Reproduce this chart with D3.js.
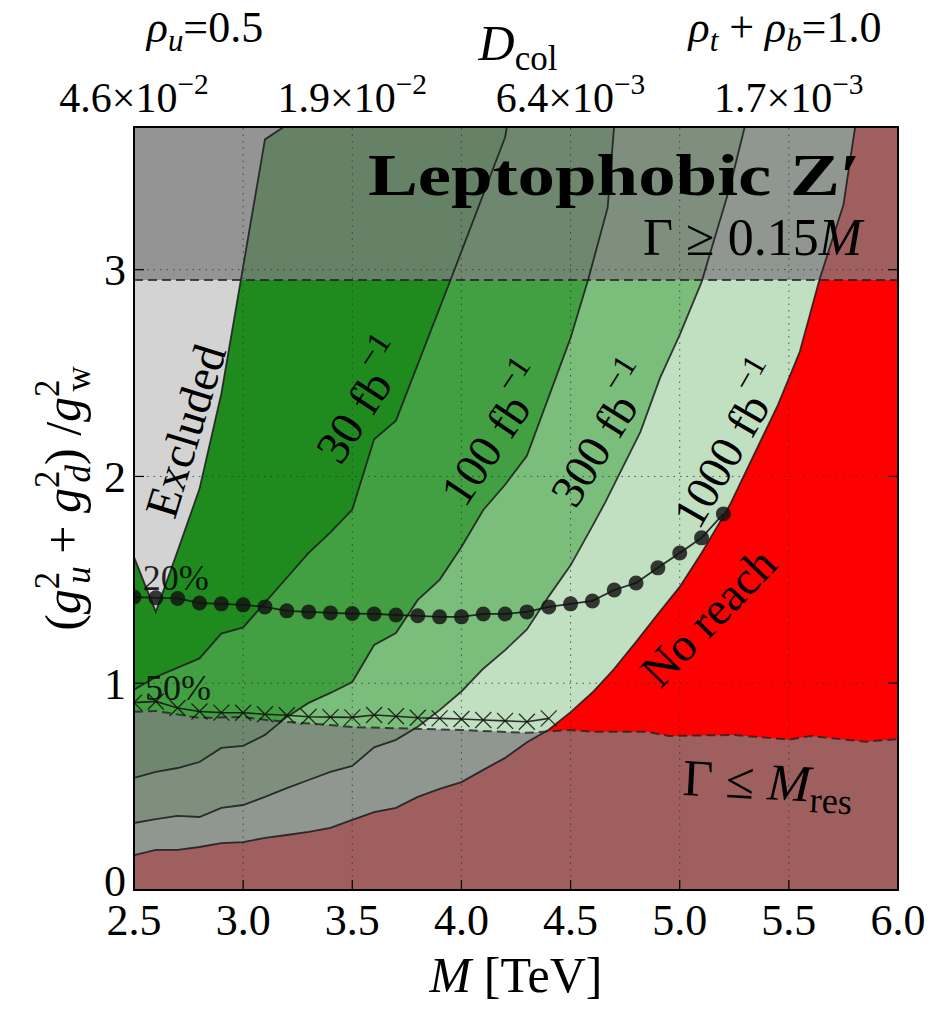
<!DOCTYPE html>
<html><head><meta charset="utf-8">
<script src="https://cdn.jsdelivr.net/npm/d3@7"></script>
<style>body{margin:0;background:#fff} text{font-family:'Liberation Serif','DejaVu Serif',serif;fill:#000}</style>
</head><body><svg id="c" width="944" height="1011"></svg>
<script>
// ---------- data ----------
const xTicks=[2.5,3.0,3.5,4.0,4.5,5.0,5.5,6.0];
const yTicks=[0,1,2,3];
const topTickM=[2.5,3.5,4.5,5.5];
const topTickMant=["4.6","1.9","6.4","1.7"];
const topTickExp=["−2","−2","−3","−3"];

const excludedM=[2.5,2.6,2.7,2.8,2.9,3.1,3.2];
const excludedG=[1.61,1.345,1.64,1.94,2.40,3.63,3.70];

const lumi30M=[2.5,2.6,2.8,2.9,3.0,3.1,3.2,3.3,3.4,3.5,3.6,3.7,3.95,4.2,4.21];
const lumi30G=[0.968,1.03,1.12,1.24,1.27,1.39,1.51,1.63,1.73,1.84,2.18,2.27,2.95,3.64,3.70];

const lumi100M=[2.5,2.6,2.7,2.8,2.9,3.0,3.1,3.2,3.3,3.4,3.5,3.6,3.7,3.8,3.9,4.0,4.1,4.2,4.3,4.5,4.58,4.67,4.70];
const lumi100G=[0.542,0.571,0.590,0.619,0.687,0.697,0.750,0.837,0.905,0.953,1.006,1.185,1.243,1.403,1.50,1.659,1.838,1.96,2.10,2.67,2.95,3.30,3.70];

const lumi300M=[2.5,2.6,2.7,2.8,2.9,3.0,3.1,3.2,3.3,3.4,3.5,3.6,3.7,3.8,3.9,4.0,4.1,4.2,4.3,4.4,4.5,4.6,4.66,4.82,4.91,5.0,5.1,5.23,5.3];
const lumi300G=[0.324,0.343,0.358,0.353,0.397,0.411,0.450,0.493,0.532,0.571,0.600,0.690,0.726,0.79,0.87,0.96,1.07,1.16,1.26,1.42,1.57,1.76,1.877,2.216,2.477,2.685,2.94,3.40,3.70];

const lumi1000M=[2.5,2.6,2.7,2.8,2.9,3.0,3.1,3.2,3.3,3.4,3.5,3.6,3.7,3.8,3.9,4.0,4.1,4.2,4.3,4.4,4.5,4.6,4.7,4.8,4.9,5.0,5.1,5.19,5.23,5.45,5.55,5.64,5.75,5.805];
const lumi1000G=[0.169,0.194,0.194,0.208,0.227,0.232,0.252,0.266,0.281,0.300,0.339,0.377,0.397,0.450,0.489,0.522,0.581,0.639,0.715,0.775,0.86,0.955,1.07,1.20,1.335,1.466,1.63,1.79,1.863,2.346,2.603,2.951,3.314,3.70];

const gammaResM=[2.5,2.6,2.8,3.0,3.1,3.2,3.4,3.5,4.0,4.3,4.5,4.6,4.85,4.95,5.25,5.5,5.6,5.85,6.0];
const gammaResG=[0.862,0.866,0.832,0.837,0.823,0.813,0.798,0.788,0.774,0.760,0.774,0.765,0.765,0.745,0.750,0.727,0.745,0.717,0.730];
const gammaWideG=2.95;

const pct20M=[2.5,2.6,2.7,2.8,2.9,3.0,3.1,3.2,3.3,3.4,3.5,3.6,3.7,3.8,3.9,4.0,4.1,4.2,4.3,4.4,4.5,4.6,4.7,4.8,4.9,5.0,5.1,5.2];
const pct20G=[1.417,1.413,1.410,1.388,1.384,1.379,1.369,1.350,1.345,1.340,1.337,1.335,1.330,1.326,1.321,1.321,1.335,1.335,1.345,1.369,1.384,1.398,1.451,1.485,1.558,1.630,1.703,1.819];

const pct50M=[2.5,2.6,2.7,2.8,2.9,3.0,3.1,3.2,3.3,3.4,3.5,3.6,3.7,3.8,3.9,4.0,4.1,4.2,4.3,4.4];
const pct50G=[0.906,0.912,0.880,0.863,0.858,0.857,0.850,0.845,0.838,0.836,0.835,0.846,0.840,0.833,0.830,0.827,0.822,0.818,0.814,0.830];

const colors={excluded:"#d3d3d3",l30:"#1f8b1f",l100:"#42a042",l300:"#7bbe7b",l1000:"#c1dfc1",noreach:"#ff0000"};

// ---------- setup ----------
const svg=d3.select("#c");
const L=134,R=898,T=127,B=890,YMAX=3.69;
const x=d3.scaleLinear().domain([2.5,6.0]).range([L,R]);
const y=d3.scaleLinear().domain([0,YMAX]).range([B,T]);
const zip=(a,b)=>a.map((v,i)=>[v,b[i]]);
const line=d3.line().x(d=>x(d[0])).y(d=>y(d[1]));

svg.append("clipPath").attr("id","clip").append("rect").attr("x",L).attr("y",T).attr("width",R-L).attr("height",B-T);
const g=svg.append("g").attr("clip-path","url(#clip)");

g.append("rect").attr("x",x(2.5)).attr("y",y(YMAX)).attr("width",x(6)-x(2.5)).attr("height",y(0)-y(YMAX)).attr("fill",colors.noreach);
const leftOf=(M,G)=>zip(M,G).concat([[2.45,3.75],[2.45,G[0]]]);
[[lumi1000M,lumi1000G,colors.l1000],[lumi300M,lumi300G,colors.l300],[lumi100M,lumi100G,colors.l100],[lumi30M,lumi30G,colors.l30],[excludedM,excludedG,colors.excluded]]
 .forEach(([M,G,c])=>g.append("path").attr("d",line(leftOf(M,G))+"Z").attr("fill",c));

g.append("rect").attr("x",x(2.5)).attr("y",y(YMAX)).attr("width",x(6)-x(2.5)).attr("height",y(gammaWideG)-y(YMAX)).attr("fill","rgb(127,127,127)").attr("fill-opacity",0.75);
g.append("path").attr("d",line(zip(gammaResM,gammaResG).concat([[6,0],[2.5,0]]))+"Z").attr("fill","rgb(127,127,127)").attr("fill-opacity",0.75);

[[excludedM,excludedG],[lumi30M,lumi30G],[lumi100M,lumi100G],[lumi300M,lumi300G],[lumi1000M,lumi1000G]].forEach(([M,G])=>
 g.append("path").attr("d",line(zip(M,G))).attr("fill","none").attr("stroke","#1a1a1a").attr("stroke-width",1.8).attr("stroke-opacity",0.85));

g.append("path").attr("d",line(zip(gammaResM,gammaResG))).attr("fill","none").attr("stroke","#222").attr("stroke-width",2).attr("stroke-dasharray","9,5").attr("stroke-opacity",0.8);
g.append("path").attr("d",line([[2.5,gammaWideG],[6,gammaWideG]])).attr("fill","none").attr("stroke","#222").attr("stroke-width",2).attr("stroke-dasharray","9,5").attr("stroke-opacity",0.8);

xTicks.slice(1,-1).forEach(v=>g.append("line").attr("x1",x(v)).attr("x2",x(v)).attr("y1",y(0)).attr("y2",y(YMAX)).attr("stroke","#333").attr("stroke-width",1).attr("stroke-dasharray","1.5,5").attr("stroke-opacity",0.8));
yTicks.slice(1).forEach(v=>g.append("line").attr("x1",x(2.5)).attr("x2",x(6)).attr("y1",y(v)).attr("y2",y(v)).attr("stroke","#333").attr("stroke-width",1).attr("stroke-dasharray","1.5,5").attr("stroke-opacity",0.8));

g.append("path").attr("d",line(zip(pct20M,pct20G))).attr("fill","none").attr("stroke","#111").attr("stroke-width",1.8).attr("stroke-opacity",0.85);
g.selectAll("circle.p20").data(zip(pct20M,pct20G)).enter().append("circle").attr("cx",d=>x(d[0])).attr("cy",d=>y(d[1])).attr("r",7.5).attr("fill","#111").attr("fill-opacity",0.82);
g.append("path").attr("d",line(zip(pct50M,pct50G))).attr("fill","none").attr("stroke","#111").attr("stroke-width",1.6).attr("stroke-opacity",0.85);
g.selectAll("path.p50").data(zip(pct50M,pct50G)).enter().append("path")
 .attr("d",d=>{const cx=x(d[0]),cy=y(d[1]),s=8;return `M${cx-s},${cy-s}L${cx+s},${cy+s}M${cx-s},${cy+s}L${cx+s},${cy-s}`;})
 .attr("stroke","#111").attr("stroke-width",1.3).attr("stroke-opacity",0.85);

// ---------- text helper ----------
function mtext(parent,parts,fs,attrs){
  const t=parent.append("text").attr("font-size",fs);
  Object.entries(attrs||{}).forEach(([k,v])=>t.attr(k,v));
  let shift=0;
  parts.forEach(p=>{
    if(typeof p==="string") p={t:p};
    const ts=t.append("tspan").text(p.t);
    const target=p.sup?-0.42*fs:(p.sub?0.2*fs:0);
    ts.attr("dy",target-shift); shift=target;
    if(p.sup||p.sub) ts.attr("font-size",fs*0.7);
    if(p.i) ts.attr("font-style","italic");
    if(p.b) ts.attr("font-weight","bold");
    if(p.dx) ts.attr("dx",p.dx);
  });
  return t;
}

const ann=svg.append("g");
function rotLabel(M,G,ang,parts,fs){
  return mtext(ann,parts,fs,{"text-anchor":"middle","dominant-baseline":"central",transform:`translate(${x(M)},${y(G)}) rotate(${ang})`});
}
rotLabel(2.735,2.22,-73,["Excluded"],47);
rotLabel(3.55,2.36,-57,["30 fb",{t:"−1",sup:true}],47);
rotLabel(4.155,2.20,-56,["100 fb",{t:"−1",sup:true}],47);
rotLabel(4.65,2.20,-58,["300 fb",{t:"−1",sup:true}],47);
rotLabel(5.23,2.15,-60,["1000 fb",{t:"−1",sup:true}],47);
rotLabel(5.13,1.32,-46,["No reach"],47);
mtext(ann,["20%"],36,{x:x(2.54),y:y(1.45),"fill-opacity":0.85});
mtext(ann,["50%"],36,{x:x(2.55),y:y(0.92),"fill-opacity":0.85});
mtext(ann,[{t:"Leptophobic Z′",b:true}],60,{x:x(5.83),y:y(3.36),"text-anchor":"end",textLength:493,lengthAdjust:"spacingAndGlyphs"});
mtext(ann,["Γ ≥ 0.15",{t:"M",i:true}],52,{x:x(5.835),y:y(3.07),"text-anchor":"end"});
mtext(ann,["Γ ≤ ",{t:"M",i:true},{t:"res",sub:true}],52,{transform:`translate(${x(5.01)},${y(0.46)}) rotate(3)`});

// ---------- frame & axes ----------
const ax=svg.append("g");
ax.append("rect").attr("x",L).attr("y",T).attr("width",R-L).attr("height",B-T).attr("fill","none").attr("stroke","#000").attr("stroke-width",2);
xTicks.forEach(v=>{
  ax.append("line").attr("x1",x(v)).attr("x2",x(v)).attr("y1",B).attr("y2",B-10).attr("stroke","#000").attr("stroke-width",1.2);
  ax.append("text").attr("x",x(v)).attr("y",B+45).attr("text-anchor","middle").attr("font-size",44).text(v.toFixed(1));
});
yTicks.forEach(v=>{
  ax.append("line").attr("x1",L).attr("x2",L+10).attr("y1",y(v)).attr("y2",y(v)).attr("stroke","#000").attr("stroke-width",1.2);
  ax.append("line").attr("x1",R).attr("x2",R-10).attr("y1",y(v)).attr("y2",y(v)).attr("stroke","#000").attr("stroke-width",1.2);
  ax.append("text").attr("x",L-8).attr("y",y(v)-(v===0?9:0)).attr("dy","0.35em").attr("text-anchor","end").attr("font-size",44).text(v);
});
topTickM.forEach((m,i)=>{
  mtext(ax,[topTickMant[i]+"×10",{t:topTickExp[i],sup:true}],42,{x:x(m),y:112,"text-anchor":"middle"});
});
mtext(ax,[{t:"ρ",i:true},{t:"u",i:true,sub:true},"=0.5"],44,{x:205,y:42,"text-anchor":"middle"});
mtext(ax,[{t:"D",i:true},{t:"col",sub:true}],50,{x:518,y:60,"text-anchor":"middle"});
mtext(ax,[{t:"ρ",i:true},{t:"t",i:true,sub:true}," + ",{t:"ρ",i:true},{t:"b",i:true,sub:true},"=1.0"],44,{x:785,y:42,"text-anchor":"middle"});
mtext(ax,[{t:"M",i:true}," [TeV]"],50,{x:(L+R)/2,y:992,"text-anchor":"middle"});
mtext(ax,["(",{t:"g",i:true},{t:"2",sup:true},{t:"u",i:true,sub:true,dx:-12}," + ",{t:"g",i:true},{t:"2",sup:true},{t:"d",i:true,sub:true,dx:-12},") /",{t:"g",i:true},{t:"2",sup:true},{t:"w",sub:true,dx:-12}],50,
  {transform:`translate(80,${(T+B)/2-10}) rotate(-90)`,"text-anchor":"middle"});
</script></body></html>
